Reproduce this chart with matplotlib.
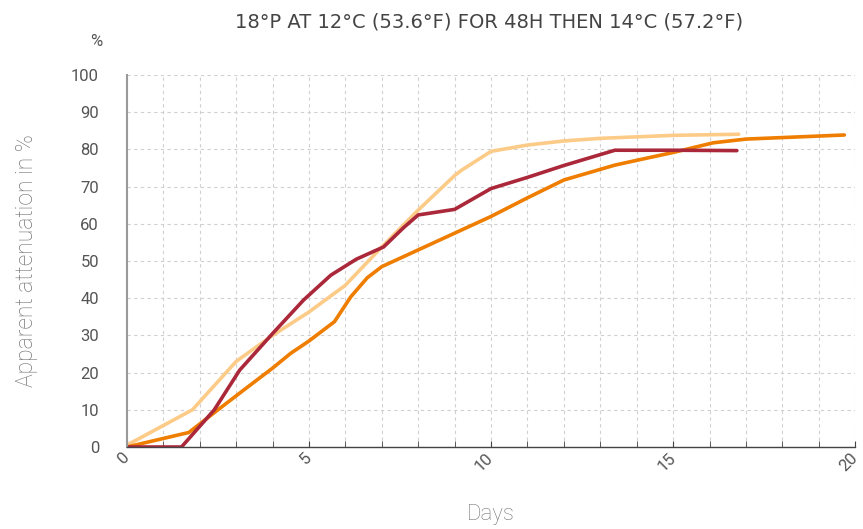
import matplotlib
matplotlib.use("Agg")
import matplotlib.pyplot as plt
from matplotlib.ticker import MultipleLocator

plt.rcParams['font.family'] = ['Roboto', 'DejaVu Sans']

# light (cream) series
days_a = [0, 1.8, 3.0, 4.0, 5.0, 6.0, 7.0, 8.0, 9.0, 9.2, 10.0, 11.0, 12.0, 13.0, 14.0, 15.0, 16.8]
att_a = [0.5, 10, 23, 30, 36.3, 43.5, 53.8, 63.7, 73, 74.5, 79.5, 81.2, 82.3, 83.0, 83.4, 83.8, 84.1]

# dark red series
days_b = [0, 1.5, 2.4, 3.1, 4.0, 4.85, 5.6, 6.3, 7.05, 7.6, 8.0, 9.0, 10.0, 11.0, 12.0, 13.4, 15.0, 16.75]
att_b = [0, 0, 10, 20.7, 30.5, 39.5, 46.2, 50.5, 53.8, 59, 62.4, 63.9, 69.5, 72.5, 75.7, 79.8, 79.8, 79.7]

# orange series
days_c = [0, 1.7, 2.5, 3.3, 4.0, 4.5, 5.0, 5.7, 6.15, 6.6, 7.0, 8.0, 9.0, 10.0, 11.0, 12.0, 13.4, 14.1, 15.0, 16.1, 17.0, 19.7]
att_c = [0, 3.9, 10, 16, 21.2, 25.2, 28.5, 33.7, 40.4, 45.5, 48.5, 53, 57.5, 62, 67, 71.8, 75.8, 77.3, 79.2, 81.8, 82.8, 83.9]

x_ticks = [0, 5, 10, 15, 20]

fig = plt.figure(figsize=(8.63, 5.29), dpi=100)
ax = fig.add_axes([0.147, 0.155, 0.844, 0.703])

ax.plot(days_a, att_a, color="#FDCB88", lw=2.6, solid_capstyle="round")
ax.plot(days_c, att_c, color="#EE7D00", lw=2.6, solid_capstyle="round")
ax.plot(days_b, att_b, color="#AA283A", lw=2.6, solid_capstyle="round")

ax.set_xlim(0, 20)
ax.set_ylim(0, 100)
ax.xaxis.set_minor_locator(MultipleLocator(1))
ax.yaxis.set_major_locator(MultipleLocator(10))
ax.set_xticks(x_ticks)
ax.set_xticklabels([str(t) for t in x_ticks], rotation=45, fontsize=12, color="#555555",
                   ha="right", va="center", rotation_mode="anchor")
for lbl in ax.get_yticklabels():
    lbl.set_fontsize(12)
    lbl.set_color("#555555")

ax.grid(True, which="both", axis="x", color="#d0d0d0", ls=(0, (3, 3)), lw=0.8)
ax.grid(True, which="major", axis="y", color="#d0d0d0", ls=(0, (3, 3)), lw=0.8)
ax.set_axisbelow(True)

for s in ["top", "right"]:
    ax.spines[s].set_visible(False)
ax.spines["left"].set_color("#999999")
ax.spines["left"].set_linewidth(1.5)
ax.spines["bottom"].set_color("#444444")
ax.spines["bottom"].set_linewidth(1.0)

ax.tick_params(axis="x", which="both", direction="in", length=4, color="#444444", pad=6)
ax.tick_params(axis="y", length=0, pad=20)

ax.set_xlabel("Days", fontsize=16, color="#777777", labelpad=22, fontweight="light")
ax.set_ylabel("Apparent attenuation in %", fontsize=16.5, color="#777777", labelpad=24, fontweight="light")

fig.text(0.567, 0.958, "18°P AT 12°C (53.6°F) FOR 48H THEN 14°C (57.2°F)",
         ha="center", va="center", fontsize=14, color="#444444", family="DejaVu Sans")
fig.text(0.112, 0.921, "%", ha="center", va="center", fontsize=12, color="#555555")

fig.savefig("out.png", dpi=100)
